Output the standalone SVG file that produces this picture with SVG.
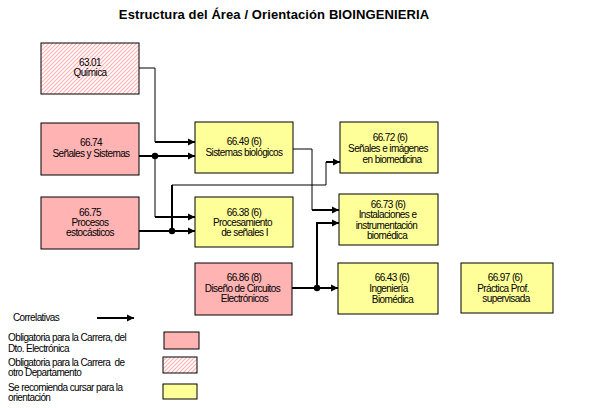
<svg xmlns="http://www.w3.org/2000/svg" width="589" height="408" viewBox="0 0 589 408">
<style>
  text { font-family: "Liberation Sans", Arial, sans-serif; font-size: 10px; letter-spacing: -0.6px; fill: #000; }
  .c { text-anchor: middle; }
  .pre { white-space: pre; }
  .title { font-size: 13px; font-weight: bold; letter-spacing: 0.1px; text-anchor: middle; }
  .pink { fill: #FFB3B3; stroke: #000; stroke-width: 1; }
  .yel { fill: #FFFF99; stroke: #000; stroke-width: 1; }
  .hatch { fill: url(#h); stroke: #000; stroke-width: 1; }
  .thin { fill: none; stroke: #000; stroke-width: 1; }
  .thick { fill: none; stroke: #000; stroke-width: 2; }
  .arr { fill: none; stroke: #000; stroke-width: 2; marker-end: url(#ah); }
</style>
<defs>
  <pattern id="h" patternUnits="userSpaceOnUse" width="4" height="4">
    <rect width="4" height="4" fill="#fff"/>
    <path d="M-1,1 L1,-1 M0,4 L4,0 M3,5 L5,3" stroke="#FFB3B3" stroke-width="1.2"/>
  </pattern>
  <marker id="ah" markerWidth="8" markerHeight="8" refX="7" refY="4" orient="auto" markerUnits="userSpaceOnUse">
    <path d="M0,0.5 L7,4 L0,7.5 Z" fill="#000"/>
  </marker>
</defs>
<rect width="589" height="408" fill="#fff"/>
<text class="title" x="274" y="19">Estructura del Área / Orientación BIOINGENIERIA</text>

<g id="connectors">
  <path class="thin" d="M139,68 H155 V142"/>
  <path class="arr" d="M155,142 H195"/>
  <path class="arr" d="M139,156 H195"/>
  <circle cx="155" cy="156" r="3.2" fill="#000"/>
  <path class="thin" d="M155,156 V217"/>
  <path class="arr" d="M155,217 H195"/>
  <path class="arr" d="M139,231 H195"/>
  <circle cx="172" cy="231" r="3.2" fill="#000"/>
  <path class="thick" d="M172,231 V185"/>
  <path class="thin" d="M172,185 H326 V162"/>
  <path class="arr" d="M326,162 H340"/>
  <path class="thin" d="M292,149 H312 V210"/>
  <path class="arr" d="M312,210 H339"/>
  <path class="arr" d="M292,288 H338"/>
  <circle cx="317" cy="288" r="3.2" fill="#000"/>
  <path class="arr" d="M317,288 V223 H339"/>
</g>

<g id="n6301">
  <rect class="hatch" x="41" y="43" width="98" height="51"/>
  <text class="c" x="90" y="65.5">63.01</text>
  <text class="c" x="90" y="76">Química</text>
</g>
<g id="n6674">
  <rect class="pink" x="41" y="123" width="98" height="52"/>
  <text class="c" x="91" y="145.5">66.74</text>
  <text class="c" x="91" y="156.5">Señales y Sistemas</text>
</g>
<g id="n6675">
  <rect class="pink" x="41" y="197" width="98" height="52"/>
  <text class="c" x="90" y="215.5">66.75</text>
  <text class="c" x="90" y="225.5">Procesos</text>
  <text class="c" x="90" y="235.5">estocásticos</text>
</g>
<g id="n6649">
  <rect class="yel" x="195" y="122" width="98" height="51"/>
  <text class="c" x="244" y="144.5">66.49 (6)</text>
  <text class="c" x="244" y="156">Sistemas biológicos</text>
</g>
<g id="n6638">
  <rect class="yel" x="195" y="197" width="98" height="50"/>
  <text class="c" x="244" y="215.5">66.38 (6)</text>
  <text class="c" x="242.5" y="225.5">Procesamiento</text>
  <text class="c" x="244.5" y="235.5">de señales I</text>
</g>
<g id="n6672">
  <rect class="yel" x="340" y="122" width="98" height="51"/>
  <text class="c" x="390" y="140.5">66.72 (6)</text>
  <text class="c" x="388" y="151.5">Señales e imágenes</text>
  <text class="c" x="392" y="162.5">en biomedicina</text>
</g>
<g id="n6673">
  <rect class="yel" x="339" y="194" width="99" height="51"/>
  <text class="c" x="388" y="207.5">66.73 (6)</text>
  <text class="c" x="387.5" y="217.5">Instalaciones e</text>
  <text class="c" x="386.5" y="228.5">instrumentación</text>
  <text class="c" x="387" y="238.5">biomédica</text>
</g>
<g id="n6686">
  <rect class="pink" x="195" y="263" width="97" height="52"/>
  <text class="c" x="244" y="280.5">66.86 (8)</text>
  <text class="c" x="242.5" y="291.5">Diseño de Circuitos</text>
  <text class="c" x="244.5" y="301.5">Electrónicos</text>
</g>
<g id="n6643">
  <rect class="yel" x="338" y="263" width="100" height="51"/>
  <text class="c" x="392" y="280.5">66.43 (6)</text>
  <text class="c" x="388.5" y="291.5">Ingeniería</text>
  <text class="c" x="392.5" y="302.5">Biomédica</text>
</g>
<g id="n6697">
  <rect class="yel" x="461" y="263" width="92" height="50"/>
  <text class="c" x="505" y="280.5">66.97 (6)</text>
  <text class="c" x="503" y="291.5">Práctica Prof.</text>
  <text class="c" x="506" y="301.5">supervisada</text>
</g>

<g id="legend">
  <text x="13" y="320.5">Correlativas</text>
  <path class="arr" d="M97,318 H134"/>
  <text x="8" y="340.5">Obligatoria para la Carrera, del</text>
  <text x="8" y="351.5">Dto. Electrónica</text>
  <rect class="pink" x="164" y="332" width="35" height="17"/>
  <text class="pre" x="8" y="365.5">Obligatoria para la Carrera  de</text>
  <text x="8" y="375.5">otro Departamento</text>
  <rect class="hatch" x="163" y="357" width="34" height="16"/>
  <text x="8" y="390.5">Se recomienda cursar para la</text>
  <text x="8" y="400.5">orientación</text>
  <rect class="yel" x="163" y="384" width="34" height="15"/>
</g>
</svg>
